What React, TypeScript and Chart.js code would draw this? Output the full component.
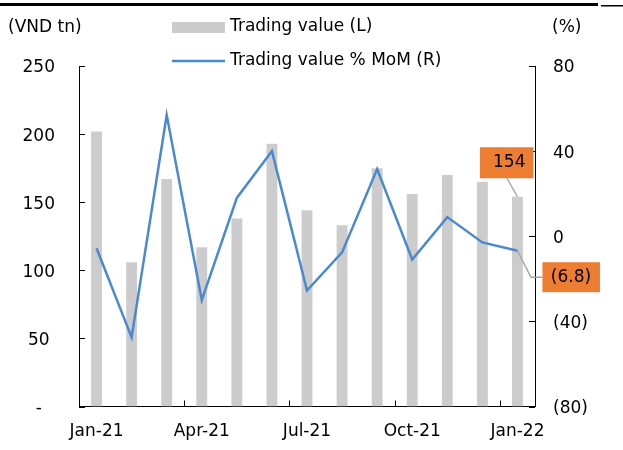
import React, { useEffect, useRef } from 'react';
import { Chart, registerables } from 'chart.js';

Chart.register(...registerables);

const categories = ['Jan-21', 'Feb-21', 'Mar-21', 'Apr-21', 'May-21', 'Jun-21', 'Jul-21', 'Aug-21', 'Sep-21', 'Oct-21', 'Nov-21', 'Dec-21', 'Jan-22'];
const tradingValue = [202, 106, 167, 117, 138, 193, 144, 133, 175, 156, 170, 165, 154];
const momPct = [-5.6, -47.5, 57, -30, 18, 40, -25.5, -7.6, 31.6, -10.9, 9, -2.9, -6.8];
const barLabel = 'Trading value (L)';
const lineLabel = 'Trading value % MoM (R)';
const leftUnit = '(VND tn)';
const rightUnit = '(%)';
const labelEvery = 3;

const FONT = '"DejaVu Sans", Verdana, sans-serif';
const BAR_COLOR = '#CCCCCC';
const LINE_COLOR = '#4A89CF';
const ORANGE = '#ED7D31';

const fmtPct = (v: number) => (v < 0 ? `(${Math.abs(v)})` : `${v}`);

const extrasPlugin = {
  id: 'extras',
  afterDraw(chart: any) {
    const ctx = chart.ctx as CanvasRenderingContext2D;
    const area = chart.chartArea;
    const xs = chart.scales.x;
    const yl = chart.scales.y;
    const yr = chart.scales.y1;
    ctx.save();
    // top rule
    ctx.fillStyle = '#000';
    ctx.fillRect(0, 3, 598, 3);
    ctx.fillRect(601, 5, 22, 1.5);

    // unit labels
    ctx.font = `17px ${FONT}`;
    ctx.fillStyle = '#000';
    ctx.textBaseline = 'middle';
    ctx.textAlign = 'left';
    ctx.fillText(leftUnit, 8, 28);
    ctx.fillText(rightUnit, 552, 28);

    // legend
    ctx.fillStyle = BAR_COLOR;
    ctx.fillRect(172, 22, 53, 11);
    ctx.strokeStyle = LINE_COLOR;
    ctx.lineWidth = 2.5;
    ctx.beginPath();
    ctx.moveTo(172, 61);
    ctx.lineTo(225, 61);
    ctx.stroke();
    ctx.fillStyle = '#000';
    ctx.fillText(barLabel, 230, 27);
    ctx.fillText(lineLabel, 230, 61);

    // inner tick marks
    ctx.strokeStyle = '#000';
    ctx.lineWidth = 1;
    ctx.beginPath();
    yl.ticks.forEach((t: any) => {
      const y = Math.round(yl.getPixelForValue(t.value)) + 0.5;
      ctx.moveTo(area.left, y);
      ctx.lineTo(area.left + 6, y);
    });
    yr.ticks.forEach((t: any) => {
      const y = Math.round(yr.getPixelForValue(t.value)) + 0.5;
      ctx.moveTo(area.right, y);
      ctx.lineTo(area.right - 6, y);
    });
    const step = (area.right - area.left) / categories.length;
    categories.forEach((_, i) => {
      if (i % labelEvery === 0) {
        const x = Math.round(xs.getPixelForValue(i) - step / 2) + 0.5;
        ctx.moveTo(x, area.bottom);
        ctx.lineTo(x, area.bottom - 6);
      }
    });
    ctx.stroke();

    // annotations for last point
    const last = categories.length - 1;
    const bar = chart.getDatasetMeta(0).data[last];
    const pt = chart.getDatasetMeta(1).data[last];
    ctx.strokeStyle = '#A6A6A6';
    ctx.lineWidth = 1.5;
    // bar label
    const bx = bar.x, by = bar.y;
    ctx.beginPath();
    ctx.moveTo(bx - 10.5, by - 18.5);
    ctx.lineTo(bx, by);
    ctx.stroke();
    ctx.fillStyle = ORANGE;
    ctx.fillRect(bx - 37.5, by - 49.5, 53.5, 31);
    ctx.fillStyle = '#000';
    ctx.textAlign = 'right';
    ctx.fillText(String(tradingValue[last]), bx + 8, by - 34);
    // line label
    const px = pt.x, py = pt.y;
    ctx.beginPath();
    ctx.moveTo(px, py);
    ctx.lineTo(px + 13.5, py + 26.5);
    ctx.lineTo(px + 25, py + 26.5);
    ctx.stroke();
    ctx.fillStyle = ORANGE;
    ctx.fillRect(px + 25, py + 11.5, 57.5, 30);
    ctx.fillStyle = '#000';
    ctx.textAlign = 'center';
    ctx.fillText(fmtPct(momPct[last]), px + 53.5, py + 26.5);
    ctx.restore();
  },
};

export default function App() {
  const ref = useRef<HTMLCanvasElement | null>(null);
  useEffect(() => {
    if (!ref.current) return;
    const chart = new Chart(ref.current, {
      type: 'bar',
      data: {
        labels: categories,
        datasets: [
          {
            type: 'bar',
            label: barLabel,
            data: tradingValue,
            backgroundColor: BAR_COLOR,
            yAxisID: 'y',
            barPercentage: 0.31,
            categoryPercentage: 1,
            order: 2,
          },
          {
            type: 'line',
            label: lineLabel,
            data: momPct,
            borderColor: LINE_COLOR,
            borderWidth: 2.5,
            pointRadius: 0,
            tension: 0,
            yAxisID: 'y1',
            order: 1,
          } as any,
        ],
      },
      options: {
        responsive: false,
        animation: false,
        devicePixelRatio: 1,
        layout: { padding: { top: 66, left: 0, right: 0, bottom: 0 } },
        plugins: { legend: { display: false }, tooltip: { enabled: false } },
        scales: {
          x: {
            grid: { display: false, drawTicks: false },
            border: { display: true, color: '#000', width: 1 },
            ticks: {
              autoSkip: false,
              maxRotation: 0,
              padding: 15,
              color: '#000',
              font: { family: FONT, size: 17 },
              callback: (_v: any, i: number) => (i % labelEvery === 0 ? categories[i] : ''),
            },
            afterFit: (s: any) => { s.height = 43.5; },
          },
          y: {
            position: 'left',
            min: 0,
            max: 250,
            grid: { display: false, drawTicks: false },
            border: { display: true, color: '#000', width: 1 },
            ticks: {
              stepSize: 50,
              padding: 24,
              crossAlign: 'center',
              labelOffset: 2,
              color: '#000',
              font: { family: FONT, size: 17 },
              callback: (v: any) => (v === 0 ? '-' : String(v)),
            },
            afterFit: (s: any) => { s.width = 79; },
          },
          y1: {
            position: 'right',
            min: -80,
            max: 80,
            grid: { display: false, drawTicks: false },
            border: { display: true, color: '#000', width: 1 },
            ticks: {
              stepSize: 40,
              padding: 18,
              crossAlign: 'near',
              labelOffset: 2,
              color: '#000',
              font: { family: FONT, size: 17 },
              callback: (v: any) => fmtPct(v),
            },
            afterFit: (s: any) => { s.width = 88; },
          },
        },
      } as any,
      plugins: [extrasPlugin],
    });
    return () => chart.destroy();
  }, []);
  return (
    <div style={{ position: 'absolute', left: 0, top: 0, width: 623, height: 450, background: '#fff' }}>
      <canvas ref={ref} width={623} height={450} style={{ width: 623, height: 450, display: 'block' }} />
    </div>
  );
}
